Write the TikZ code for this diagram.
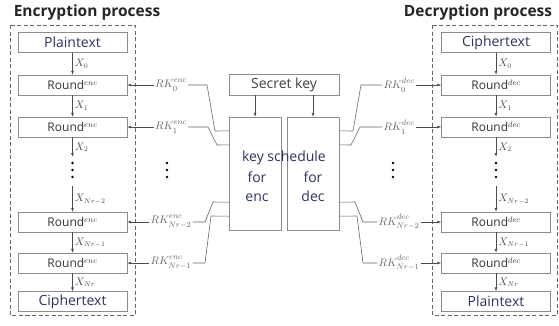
\documentclass[tikz,border=0pt]{standalone}
\usepackage{fontspec}
\setmainfont{Open Sans}
\usetikzlibrary{arrows.meta, positioning, calc}
\definecolor{boxgray}{HTML}{8C8C8C}
\definecolor{txtblue}{HTML}{2E3360}
\definecolor{keygray}{HTML}{666666}
\newcommand{\rk}[2]{$RK^{\raisebox{1.2pt}{$\scriptstyle #2$}}_{\raisebox{-1.2pt}{$\scriptstyle #1$}}$}

\begin{document}
\begin{tikzpicture}[x=1pt, y=-1pt,
    blk/.style={draw=boxgray, minimum width=109pt, minimum height=20pt, inner sep=0pt},
    io/.style={blk, font=\fontsize{14}{14}\selectfont, text=txtblue},
    rnd/.style={blk, font=\fontsize{12}{12}\selectfont, text=black!80},
    flow/.style={-{Latex[length=4pt,width=3pt]}, black!70, line width=0.6pt},
    xlab/.style={right, inner sep=2pt, font=\fontsize{10.5}{10.5}\selectfont, text=black!70},
    rklab/.style={font=\fontsize{11}{11}\selectfont, text=keygray, inner sep=1pt},
    kline/.style={keygray, line width=0.6pt},
    frame/.style={draw=black!60, dash pattern=on 4pt off 2.5pt, line width=0.6pt},
    ksbox/.style={draw=boxgray, minimum width=52pt, minimum height=113pt, inner sep=0pt},
    kstxt/.style={font=\fontsize{14}{19}\selectfont, text=txtblue, align=center}]

  \useasboundingbox (0,0) rectangle (559,325);

  % titles and frames
  \node[font=\bfseries\fontsize{15.5}{16}\selectfont, text=black!85] (enctitle) at (87,12) {Encryption process};
  \node[font=\bfseries\fontsize{15.5}{16}\selectfont, text=black!85] (dectitle) at (478,12) {Decryption process};
  \draw[frame] (10,25) rectangle (135,315);
  \draw[frame] (432,25) rectangle (557,315);

  % encryption column
  \node[io]  (ept) at (72.5,42.5) {Plaintext};
  \node[rnd] (er0) at (72.5,85)   {Round$^{enc}$};
  \node[rnd] (er1) at (72.5,127)  {Round$^{enc}$};
  \coordinate (egap1) at (72.5,157);
  \coordinate (egap2) at (72.5,186);
  \node[rnd] (ern2) at (72.5,222) {Round$^{enc}$};
  \node[rnd] (ern1) at (72.5,263) {Round$^{enc}$};
  \node[io]  (ect) at (72.5,301.5) {Ciphertext};
  \draw[flow] (ept) -- node[xlab] {$X_0$} (er0);
  \draw[flow] (er0) -- node[xlab] {$X_1$} (er1);
  \draw[flow] (er1) -- node[xlab] {$X_2$} (egap1);
  \draw[flow] (egap2) -- node[xlab] {$X_{Nr-2}$} (ern2);
  \draw[flow] (ern2) -- node[xlab] {$X_{Nr-1}$} (ern1);
  \draw[flow] (ern1) -- node[xlab] {$X_{Nr}$} (ect);

  % decryption column
  \node[io]  (dct) at (496,42.5) {Ciphertext};
  \node[rnd] (dr0) at (496,85)   {Round$^{dec}$};
  \node[rnd] (dr1) at (496,127)  {Round$^{dec}$};
  \coordinate (dgap1) at (496,157);
  \coordinate (dgap2) at (496,186);
  \node[rnd] (drn2) at (496,222) {Round$^{dec}$};
  \node[rnd] (drn1) at (496,263) {Round$^{dec}$};
  \node[io]  (dpt) at (496,301.5) {Plaintext};
  \draw[flow] (dct) -- node[xlab] {$X_0$} (dr0);
  \draw[flow] (dr0) -- node[xlab] {$X_1$} (dr1);
  \draw[flow] (dr1) -- node[xlab] {$X_2$} (dgap1);
  \draw[flow] (dgap2) -- node[xlab] {$X_{Nr-2}$} (drn2);
  \draw[flow] (drn2) -- node[xlab] {$X_{Nr-1}$} (drn1);
  \draw[flow] (drn1) -- node[xlab] {$X_{Nr}$} (dpt);

  % vertical dots
  \foreach \x in {72.5,167,393,496}
    \foreach \y in {163,170,177}
      \fill (\x,\y) circle (1.3pt);

  % key schedule
  \node[blk, minimum width=110pt, minimum height=21pt, font=\fontsize{14}{14}\selectfont, text=black!75] (skey) at (284,84.5) {Secret key};
  \node[ksbox] (ksenc) at (255,173.5) {};
  \node[ksbox] (ksdec) at (313,173.5) {};
  \draw[flow] (skey.south -| ksenc.north) -- (ksenc.north);
  \draw[flow] (skey.south -| ksdec.north) -- (ksdec.north);
  \node[kstxt] (kstitle) at (284,158) {key schedule};
  \node[kstxt] (ksforenc) at (257,187) {for\\enc};
  \node[kstxt] (ksfordec) at (313,187) {for\\dec};

  \coordinate (ein0) at ($(ksenc.north west)+(0,14)$);
  \coordinate (ein1) at ($(ksenc.north west)+(0,28)$);
  \coordinate (ein2) at ($(ksenc.south west)+(0,-28)$);
  \coordinate (ein3) at ($(ksenc.south west)+(0,-14)$);
  \coordinate (din0) at ($(ksdec.north east)+(0,14)$);
  \coordinate (din1) at ($(ksdec.north east)+(0,28)$);
  \coordinate (din2) at ($(ksdec.south east)+(0,-28)$);
  \coordinate (din3) at ($(ksdec.south east)+(0,-14)$);

  % round keys, encryption side
  \node[rklab] (rke0) at (171,85)  {\rk{0}{enc}};
  \node[rklab] (rke1) at (171,127) {\rk{1}{enc}};
  \node[rklab] (rke2) at (171,222) {\rk{Nr-2}{enc}};
  \node[rklab] (rke3) at (171,263) {\rk{Nr-1}{enc}};
  \foreach \i/\r in {0/er0,1/er1,2/ern2,3/ern1}
    \draw[flow] (rke\i) -- (\r);
  \draw[kline] (rke0) -- (207,85)  -- (215,131) -- (ein0);
  \draw[kline] (rke1) -- (208,127) -- (217,145) -- (ein1);
  \draw[kline] (rke2) -- (205,222) -- (213,202) -- (ein2);
  \draw[kline] (rke3) -- (205,263) -- (211,216) -- (ein3);

  % round keys, decryption side
  \node[rklab] (rkd0) at (399,85)  {\rk{0}{dec}};
  \node[rklab] (rkd1) at (399,127) {\rk{1}{dec}};
  \node[rklab] (rkd2) at (399,222) {\rk{Nr-2}{dec}};
  \node[rklab] (rkd3) at (399,263) {\rk{Nr-1}{dec}};
  \foreach \i/\r in {0/dr0,1/dr1,2/drn2,3/drn1}
    \draw[flow] (rkd\i) -- (\r);
  \draw[kline] (rkd0) -- (361,85)  -- (353,131) -- (din0);
  \draw[kline] (rkd1) -- (360,127) -- (351,145) -- (din1);
  \draw[kline] (rkd2) -- (363,222) -- (355,202) -- (din2);
  \draw[kline] (rkd3) -- (363,263) -- (357,216) -- (din3);
\end{tikzpicture}
\end{document}
